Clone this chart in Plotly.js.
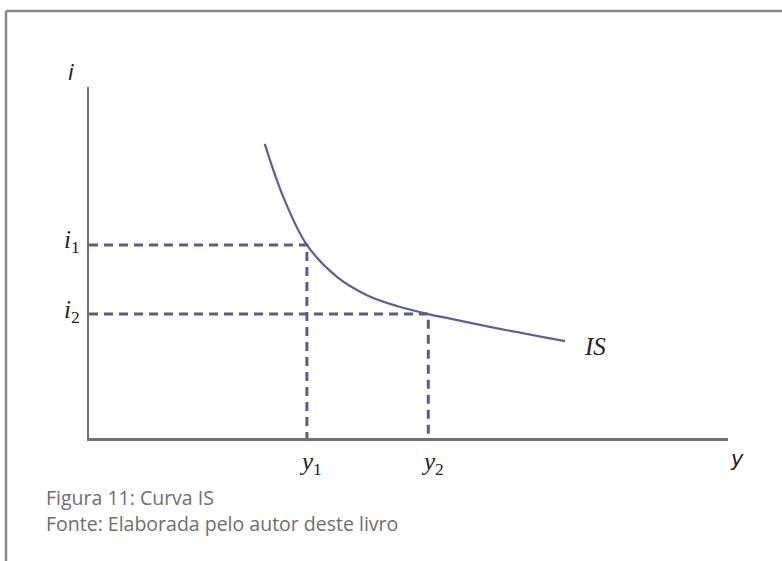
<!DOCTYPE html>
<html>
<head>
<meta charset="utf-8">
<script src="https://cdn.plot.ly/plotly-3.0.1.min.js"></script>
<style>
  html, body { margin: 0; padding: 0; background: #ffffff; }
  #chart { width: 782px; height: 561px; }
</style>
</head>
<body>
<div id="chart"></div>
<script>
// IS curve: output (y) against interest rate (i)
const curveOutput = [2.75, 3.04, 3.41, 3.88, 4.35, 4.82, 5.31, 5.65, 6.54, 7.45];
const curveRate   = [8.38, 6.87, 5.50, 4.59, 4.07, 3.76, 3.53, 3.40, 3.07, 2.76];

// Two marked equilibrium points on the curve
const pointOutput = [3.41, 5.31];
const pointRate   = [5.50, 3.53];
const outputLabels = ['1', '2'];
const rateLabels   = ['1', '2'];

const captionLines = ['Figura 11: Curva IS', 'Fonte: Elaborada pelo autor deste livro'];

const W = 782, H = 561;
const M = { l: 89, r: 54, t: 87, b: 123 };
const plotW = W - M.l - M.r, plotH = H - M.t - M.b;
const px = x => (x - M.l) / plotW;        // pixel -> paper x
const py = y => (H - M.b - y) / plotH;    // pixel -> paper y

const curveColor = '#5e5e9e';
const dashColor = '#5a5a9a';
const axisColor = '#717171';
const serif = 'Liberation Serif, DejaVu Serif, serif';

const traces = [];
// dashed guides to both axes
pointOutput.forEach((xv, k) => {
  traces.push({
    x: [0, xv, xv], y: [pointRate[k], pointRate[k], 0],
    mode: 'lines', type: 'scatter', hoverinfo: 'skip', showlegend: false,
    line: { color: dashColor, width: 3, dash: '9px,6px' }
  });
});
traces.push({
  x: curveOutput, y: curveRate, mode: 'lines', type: 'scatter',
  line: { color: curveColor, width: 2.2, shape: 'spline', smoothing: 1 },
  hoverinfo: 'skip', showlegend: false
});

const annotations = [];
pointOutput.forEach((xv, k) => {
  annotations.push({
    x: xv, xref: 'x', y: py(463), yref: 'paper',
    text: '<i>y</i><sub>' + outputLabels[k] + '</sub>',
    showarrow: false, xanchor: 'center', yanchor: 'middle', xshift: 4,
    font: { family: serif, size: 25, color: '#222222' }
  });
});
pointRate.forEach((yv, k) => {
  annotations.push({
    x: px(82), xref: 'paper', y: yv, yref: 'y',
    text: '<i>i</i><sub>' + rateLabels[k] + '</sub>',
    showarrow: false, xanchor: 'right', yanchor: 'middle', yshift: 3,
    font: { family: serif, size: 25, color: '#222222' }
  });
});
// axis names
annotations.push({
  x: px(71), xref: 'paper', y: py(73), yref: 'paper', text: '<i>i</i>',
  showarrow: false, xanchor: 'center', yanchor: 'middle',
  font: { family: 'DejaVu Sans, sans-serif', size: 21, color: '#222222' }
});
annotations.push({
  x: px(737), xref: 'paper', y: py(459), yref: 'paper', text: '<i>y</i>',
  showarrow: false, xanchor: 'center', yanchor: 'middle',
  font: { family: 'DejaVu Sans, sans-serif', size: 21, color: '#222222' }
});
// curve name
annotations.push({
  x: curveOutput[curveOutput.length - 1], xref: 'x', y: curveRate[curveRate.length - 1], yref: 'y',
  text: '<i>IS</i>', showarrow: false, xanchor: 'left', yanchor: 'middle', xshift: 17, yshift: -5,
  font: { family: serif, size: 25, color: '#222222' }
});
// caption
captionLines.forEach((t, k) => {
  annotations.push({
    x: px(44), xref: 'paper', y: py(497 + 26 * k), yref: 'paper', text: t,
    showarrow: false, xanchor: 'left', yanchor: 'middle',
    font: { family: 'Open Sans, sans-serif', size: 19.5, color: '#6e6e6e' }
  });
});

const frameColor = '#868686';
const shapes = [
  { type: 'line', xref: 'paper', yref: 'paper', x0: px(6), x1: px(6), y0: py(H + 5), y1: py(11),
    line: { color: frameColor, width: 2.5 } },
  { type: 'line', xref: 'paper', yref: 'paper', x0: px(6), x1: px(W + 5), y0: py(11), y1: py(11),
    line: { color: frameColor, width: 2.5 } }
];

const axisBase = {
  showgrid: false, zeroline: false, showticklabels: false, ticks: '',
  showline: true, linecolor: axisColor, linewidth: 2.5, fixedrange: true
};

const layout = {
  width: W, height: H,
  margin: { l: M.l, r: M.r, t: M.t, b: M.b, pad: 0 },
  paper_bgcolor: '#ffffff', plot_bgcolor: '#ffffff',
  xaxis: Object.assign({ range: [0, 10] }, axisBase),
  yaxis: Object.assign({ range: [0, 10] }, axisBase),
  annotations: annotations,
  shapes: shapes,
  showlegend: false
};

Plotly.newPlot('chart', traces, layout, { displayModeBar: false, staticPlot: true });
</script>
</body>
</html>
